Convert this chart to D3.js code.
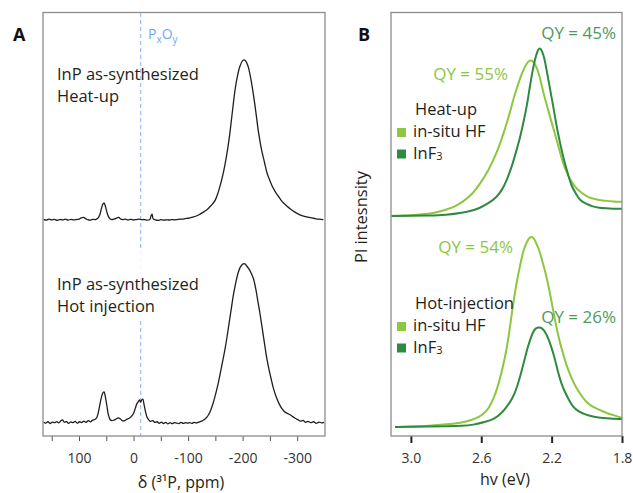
<!DOCTYPE html>
<html>
<head>
<meta charset="utf-8">
<script src="https://cdn.jsdelivr.net/npm/d3@7"></script>
<style>
  body { margin: 0; background: #fff; }
  svg { display: block; font-family: "Open Sans", sans-serif; }
</style>
</head>
<body>
<div id="chart"></div>
<script>
const LIGHT = "#8dc63f";
const DARK = "#2f8a3f";
const DARK_TEXT = "#4c9b5e";
const FRAME = "#8c8c8c";

// panel A: 31P NMR, [ppm, intensity above own baseline]
const nmrHeatUp = [[165,0.3],[160,-0.2],[155,0.4],[150,0],[145,0.3],[140,-0.3],[135,0.2],[130,0],[125,0.4],[120,-0.2],[115,0.3],[110,0],[105,0.2],[100,0.5],[96,1.2],[92,1.5],[88,0.8],[84,0.1],[80,-0.2],[75,0.3],[70,0.2],[66,0.8],[62,3],[59,7],[56,10],[54,10.5],[52,9],[49,5],[46,2],[43,0.6],[40,0.2],[35,0.6],[30,1.3],[27,1.5],[24,0.6],[20,0.1],[15,0.4],[10,0],[5,0.3],[0,-0.1],[-5,0.2],[-10,0.5],[-15,0.1],[-20,0.2],[-25,-0.2],[-30,0.3],[-32,2.5],[-34,3.5],[-36,0.6],[-40,0],[-45,-0.3],[-50,0.1],[-55,-0.2],[-60,0],[-65,-0.1],[-70,0.2],[-75,0],[-80,0.2],[-85,0.4],[-90,0.5],[-95,0.8],[-100,1],[-105,1.4],[-110,1.8],[-115,2.4],[-120,3.2],[-125,4.2],[-130,5.3],[-135,6.5],[-140,8.2],[-145,10],[-150,12.5],[-155,17],[-160,23],[-165,30],[-170,39],[-175,50],[-180,64],[-186,81],[-190,89],[-195,96],[-200,99.5],[-203,100],[-206,99],[-210,96],[-214,90],[-219,80],[-224,68],[-229,55],[-234,45],[-240,36],[-245,29],[-250,24.5],[-255,20.5],[-260,17.5],[-265,15],[-270,12.5],[-275,10.5],[-280,9],[-287,7],[-295,5],[-306,3],[-315,2],[-330,1],[-340,0.4],[-348,0.2]];
const nmrHotInj = [[165,0.5],[161,0],[157,0.8],[153,-0.3],[149,0.6],[145,0.2],[141,0.9],[137,0.1],[133,1.5],[130,2],[127,0.5],[123,0.9],[119,-0.2],[115,0.7],[111,0.2],[107,1],[103,-0.1],[99,0.8],[95,0.3],[91,1.2],[87,0.4],[83,1.5],[79,0.7],[75,1.8],[71,2.2],[68,3],[65,6],[62,11],[59,16],[56,19],[54,19.5],[52,17],[49,11],[46,5],[43,2.2],[40,1.5],[36,1.8],[32,2.5],[28,3.2],[24,2.5],[20,1.3],[16,1.6],[12,2.4],[8,3],[4,4.2],[0,6],[-3,9],[-6,12],[-9,13.5],[-11,14.5],[-13,13],[-15,14.5],[-17,15],[-19,12],[-22,7],[-25,3.5],[-28,2],[-31,1],[-35,1.5],[-39,0.4],[-43,0.8],[-47,-0.2],[-51,0.6],[-55,-0.3],[-59,0.4],[-63,-0.5],[-67,0.2],[-71,-0.4],[-75,0.3],[-79,0],[-83,-0.3],[-87,0.4],[-91,-0.2],[-95,0.2],[-99,0],[-103,0.3],[-107,-0.2],[-111,0.4],[-115,0.1],[-120,0.6],[-125,1.2],[-130,2.2],[-134,3.5],[-138,5.5],[-142,8.5],[-146,12.5],[-150,17.5],[-155,24.5],[-159,31],[-163,38],[-167,45],[-171,53],[-175,62],[-179,71],[-183,80],[-187,87],[-191,93],[-195,97],[-200,99.3],[-204,99.5],[-208,98],[-212,96],[-216,93.5],[-220,90],[-224,84],[-228,76],[-232,68],[-236,59],[-240,50],[-244,41],[-248,34],[-252,28],[-257,21],[-262,16],[-267,12],[-272,9],[-277,7],[-282,6],[-287,5.2],[-292,4],[-297,2.8],[-302,2],[-306,1.2],[-311,1.6],[-315,0.5],[-320,1],[-325,0.2],[-330,0.8],[-335,-0.2],[-340,0.6],[-345,0.1],[-349,0.4]];
const nmrOffsets = [127, 0];
const nmrTicks = [150, 100, 50, 0, -50, -100, -150, -200, -250, -300];
const pxoyPpm = -13;

// panel B: PL, [eV, intensity above own baseline]
const plHeatUpHF = [[3.11,0],[3.05,0.2],[3.0,0.3],[2.95,0.8],[2.89,1.5],[2.84,2.6],[2.8,4],[2.75,6],[2.705,9],[2.65,14],[2.61,20],[2.56,29],[2.512,40],[2.467,55],[2.44,65],[2.42,74],[2.4,81],[2.38,88],[2.36,94],[2.34,98],[2.325,100],[2.31,99.5],[2.296,98],[2.27,91],[2.25,80],[2.22,68],[2.19,56],[2.17,48],[2.15,40],[2.136,34],[2.115,28],[2.098,24],[2.07,19],[2.04,15.5],[2.0,12.5],[1.966,11],[1.93,10.2],[1.89,9.6],[1.85,9.2],[1.8,9]];
const plHeatUpInF3 = [[3.11,0],[3.0,0],[2.9,0.2],[2.8,0.6],[2.705,2],[2.65,3.5],[2.61,5],[2.56,8],[2.512,12],[2.48,17],[2.455,23],[2.435,29],[2.42,34],[2.4,42],[2.38,50],[2.36,60],[2.34,71],[2.325,82],[2.31,92],[2.296,100],[2.28,106],[2.268,108],[2.255,106],[2.24,101],[2.22,88],[2.2,76],[2.18,63],[2.164,53],[2.145,43],[2.126,34],[2.105,26],[2.087,19],[2.06,14],[2.04,10],[2.0,7.5],[1.966,6],[1.93,5.2],[1.89,4.8],[1.85,4.6],[1.8,4.5]];
const plHotHF = [[3.09,0],[3.0,0.3],[2.9,0.8],[2.8,1.6],[2.705,2.8],[2.65,4.6],[2.61,6.5],[2.58,9],[2.555,12.5],[2.53,18],[2.505,26],[2.478,38],[2.455,50],[2.438,63],[2.42,78],[2.41,85],[2.395,95],[2.38,103],[2.362,113],[2.34,119],[2.325,121.5],[2.314,122],[2.3,121],[2.285,117],[2.268,113],[2.25,105],[2.23,97],[2.21,86],[2.193,76],[2.175,65],[2.155,55],[2.135,47],[2.117,40],[2.09,32],[2.06,25],[2.03,20],[2.004,16],[1.97,13],[1.928,11],[1.89,9],[1.852,7.7],[1.8,5.8]];
const plHotInF3 = [[3.09,0],[3.0,0.1],[2.9,0.3],[2.8,0.5],[2.705,0.7],[2.65,1.2],[2.57,3.4],[2.53,5],[2.495,7.7],[2.46,12],[2.42,18.6],[2.395,26],[2.372,35],[2.344,48],[2.325,55],[2.306,61],[2.29,63.5],[2.268,64],[2.25,63],[2.23,60],[2.2,51],[2.18,43],[2.164,35],[2.145,28],[2.126,22.6],[2.1,17],[2.08,13],[2.05,10],[2.004,7.7],[1.96,6.5],[1.91,5.6],[1.85,5.3],[1.8,5.1]];
const plOffsets = [135.3, 0];
const plTicks = [3.0, 2.6, 2.2, 1.8];
const qyLabels = ["QY = 45%", "QY = 55%", "QY = 54%", "QY = 26%"];
const groupNames = ["Heat-up", "Hot-injection"];
const seriesNames = ["in-situ HF", "InF"];

const width = 633, height = 493;
const svg = d3.select("#chart").append("svg")
  .attr("width", width).attr("height", height);

// ---------- panel A ----------
const xA = d3.scaleLinear().domain([166, -351]).range([43, 325]);
const yA = d3.scaleLinear().domain([-8.1, 256.6]).range([436, 12.5]);

const gA = svg.append("g");

gA.append("line")
  .attr("x1", xA(pxoyPpm)).attr("x2", xA(pxoyPpm))
  .attr("y1", 13).attr("y2", 436)
  .attr("stroke", "#9cc2ef").attr("stroke-width", 1.2)
  .attr("stroke-dasharray", "4,3");

[nmrHeatUp, nmrHotInj].forEach((data, i) => {
  const line = d3.line()
    .x(d => xA(d[0]))
    .y(d => yA(d[1] + nmrOffsets[i]))
    .curve(d3.curveCatmullRom.alpha(0.5));
  gA.append("path")
    .attr("d", line(data))
    .attr("fill", "none")
    .attr("stroke", "#1e1e1e")
    .attr("stroke-width", 1.3)
    .attr("stroke-linejoin", "round");
});

// the guide line fades behind the lower label
gA.append("rect")
  .attr("x", 130).attr("y", 250).attr("width", 20).attr("height", 68)
  .attr("fill", "#fff").attr("opacity", 0.85);

const pxoy = gA.append("text")
  .attr("x", 148).attr("y", 39)
  .attr("fill", "#72a8ee").attr("font-size", 14);
pxoy.append("tspan").text("P");
pxoy.append("tspan").text("x").attr("font-size", 10).attr("dy", 4);
pxoy.append("tspan").text("O").attr("dy", -4);
pxoy.append("tspan").text("y").attr("font-size", 10).attr("dy", 4);

const labelsA = [["InP as-synthesized", "Heat-up", 80], ["InP as-synthesized", "Hot injection", 290]];
labelsA.forEach(l => {
  gA.append("text").attr("x", 57).attr("y", l[2])
    .attr("font-size", 16.5).attr("fill", "#231f20").text(l[0]);
  gA.append("text").attr("x", 57).attr("y", l[2] + 22)
    .attr("font-size", 16.5).attr("fill", "#231f20").text(l[1]);
});

const axA = gA.append("g")
  .attr("transform", "translate(0,436)")
  .call(d3.axisBottom(xA).tickValues(nmrTicks).tickSize(5).tickPadding(12)
    .tickFormat(d => d % 100 === 0 ? String(d) : ""));
axA.select(".domain").remove();
axA.selectAll("line").attr("stroke", "#555").attr("stroke-width", 1);
axA.selectAll("text").attr("font-size", 14).attr("fill", "#333")
  .attr("font-family", "Open Sans");

gA.append("rect")
  .attr("x", 43).attr("y", 12.5).attr("width", 325 - 43).attr("height", 436 - 12.5)
  .attr("fill", "none").attr("stroke", FRAME).attr("stroke-width", 1.3);

gA.append("text").attr("x", 181).attr("y", 488)
  .attr("text-anchor", "middle").attr("font-size", 16).attr("fill", "#231f20")
  .text("δ (³¹P, ppm)");

svg.append("text").attr("x", 13).attr("y", 41)
  .attr("font-size", 18).attr("font-weight", "bold").attr("fill", "#111").text("A");

// ---------- panel B ----------
const xB = d3.scaleLinear().domain([3.113, 1.8]).range([391, 622]);
const yB = d3.scaleLinear().domain([-5.8, 265.7]).range([436, 12.5]);
const gB = svg.append("g");

const plSets = [[plHeatUpHF, plHeatUpInF3], [plHotHF, plHotInF3]];
plSets.forEach((pair, i) => {
  pair.forEach((data, j) => {
    const line = d3.line()
      .x(d => xB(d[0]))
      .y(d => yB(d[1] + plOffsets[i]))
      .curve(d3.curveBasis);
    gB.append("path")
      .attr("d", line(data))
      .attr("fill", "none")
      .attr("stroke", j === 0 ? LIGHT : DARK)
      .attr("stroke-width", 2);
  });
});

const qyPos = [[616, 39, DARK_TEXT], [508, 80, LIGHT], [513, 253, LIGHT], [616, 323, DARK_TEXT]];
qyLabels.forEach((t, i) => {
  gB.append("text").attr("x", qyPos[i][0]).attr("y", qyPos[i][1])
    .attr("text-anchor", "end").attr("font-size", 17)
    .attr("fill", qyPos[i][2]).text(t);
});

// legends
const legendTop = [115, 309];
groupNames.forEach((name, i) => {
  const y0 = legendTop[i];
  gB.append("text").attr("x", 415).attr("y", y0)
    .attr("font-size", 16.5).attr("fill", "#231f20").text(name);
  seriesNames.forEach((s, j) => {
    const yy = y0 + 22 + j * 21.5;
    gB.append("rect").attr("x", 397).attr("y", yy - 9)
      .attr("width", 9).attr("height", 9)
      .attr("fill", j === 0 ? LIGHT : DARK);
    const t = gB.append("text").attr("x", 413).attr("y", yy)
      .attr("font-size", 16.5).attr("fill", "#231f20").text(s);
    if (j === 1) t.append("tspan").text("3").attr("font-size", 11).attr("dy", 1);
  });
});

const axB = gB.append("g")
  .attr("transform", "translate(0,436)")
  .call(d3.axisBottom(xB).tickValues(plTicks).tickSize(7).tickPadding(10)
    .tickFormat(d3.format(".1f")));
axB.select(".domain").remove();
axB.selectAll("line").attr("stroke", "#222").attr("stroke-width", 2);
axB.selectAll("text").attr("font-size", 14).attr("fill", "#333")
  .attr("font-family", "Open Sans");

gB.append("rect")
  .attr("x", 391).attr("y", 12.5).attr("width", 622 - 391).attr("height", 436 - 12.5)
  .attr("fill", "none").attr("stroke", FRAME).attr("stroke-width", 1.3);

gB.append("text").attr("x", 505).attr("y", 485)
  .attr("text-anchor", "middle").attr("font-size", 16).attr("fill", "#231f20")
  .text("hv (eV)");

gB.append("text")
  .attr("transform", "translate(367,217) rotate(-90)")
  .attr("text-anchor", "middle").attr("font-size", 16.5).attr("fill", "#231f20")
  .text("Pl intesnsity");

svg.append("text").attr("x", 358).attr("y", 41)
  .attr("font-size", 18).attr("font-weight", "bold").attr("fill", "#111").text("B");
</script>
</body>
</html>
